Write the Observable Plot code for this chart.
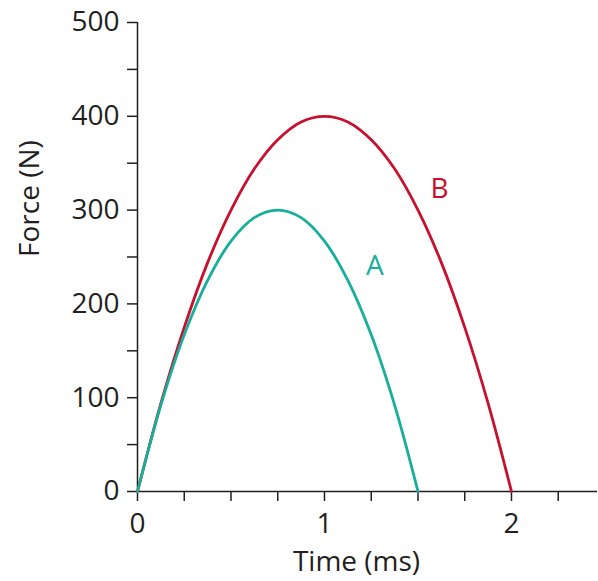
<!DOCTYPE html>
<html>
<head>
<meta charset="utf-8">
<script src="https://cdn.jsdelivr.net/npm/d3@7"></script>
<script src="https://cdn.jsdelivr.net/npm/@observablehq/plot@0.6"></script>
<style>
  html, body { margin: 0; padding: 0; background: #fff; }
  svg { font-family: "Open Sans", sans-serif; }
</style>
</head>
<body>
<div id="chart"></div>
<script>
// Time (ms) sample points and force (N)
const timeA = [0, 0.125, 0.25, 0.375, 0.5, 0.625, 0.75, 0.875, 1.0, 1.125, 1.25, 1.375, 1.5];
const forceA = [0, 92, 167, 225, 267, 292, 300, 292, 267, 225, 167, 92, 0];
const timeB = [0, 0.125, 0.25, 0.375, 0.5, 0.625, 0.75, 0.875, 1.0, 1.125, 1.25, 1.375, 1.5, 1.625, 1.75, 1.875, 2.0];
const forceB = [0, 94, 175, 244, 300, 344, 375, 394, 400, 394, 375, 344, 300, 244, 175, 94, 0];
const seriesNames = ["A", "B"];
const seriesColors = ["#17ae9b", "#c8102e"];
const labelPos = [{name: "A", t: 1.27, f: 240}, {name: "B", t: 1.615, f: 322}];
const xMajorTicks = [0, 1, 2];
const xMinorTicks = [0.25, 0.5, 0.75, 1.25, 1.5, 1.75, 2.25];
const yMajorTicks = [0, 100, 200, 300, 400, 500];
const yMinorTicks = [50, 150, 250, 350, 450];

const dataA = timeA.map((t, i) => ({t, f: forceA[i], s: "A"}));
const dataB = timeB.map((t, i) => ({t, f: forceB[i], s: "B"}));
const ink = "#231f20";
const intFmt = d => String(d);
const noLabel = () => "";

const chart = Plot.plot({
  width: 598,
  height: 581,
  marginLeft: 137,
  marginRight: 1,
  marginTop: 22,
  marginBottom: 90,
  style: {fontFamily: "Open Sans, sans-serif", fontSize: "28px", color: ink, background: "#fff"},
  x: {domain: [0, 2.46]},
  y: {domain: [0, 500]},
  color: {domain: seriesNames, range: seriesColors},
  marks: [
    Plot.axisY(yMajorTicks, {tickSize: 10, tickPadding: 8, tickFormat: intFmt, label: null, stroke: ink, fill: ink, strokeWidth: 1.5, fontSize: 28}),
    Plot.axisY(yMinorTicks, {tickSize: 10, tickFormat: noLabel, label: null, stroke: ink, strokeWidth: 1.5}),
    Plot.axisX(xMinorTicks, {tickSize: 10, tickFormat: noLabel, label: null, stroke: ink, strokeWidth: 1.5}),
    Plot.axisX(xMajorTicks, {tickSize: 10, tickPadding: 12, tickFormat: intFmt, label: null, stroke: ink, fill: ink, strokeWidth: 1.5, fontSize: 28}),
    Plot.ruleY([0], {stroke: ink, strokeWidth: 1.5}),
    Plot.ruleX([0], {y1: 0, y2: 500, stroke: ink, strokeWidth: 1.5}),
    Plot.line(dataB, {x: "t", y: "f", stroke: "s", strokeWidth: 2.8, curve: "catmull-rom"}),
    Plot.line(dataA, {x: "t", y: "f", stroke: "s", strokeWidth: 2.8, curve: "catmull-rom"}),
    Plot.text(labelPos, {x: "t", y: "f", text: "name", fill: "name", fontSize: 28}),
    Plot.text(["Time (ms)"], {frameAnchor: "bottom", dx: -11, dy: 79, fill: ink, fontSize: 28}),
    Plot.text(["Force (N)"], {frameAnchor: "left", dx: -107, rotate: -90, fill: ink, fontSize: 28})
  ]
});
document.getElementById("chart").append(chart);
</script>
</body>
</html>
